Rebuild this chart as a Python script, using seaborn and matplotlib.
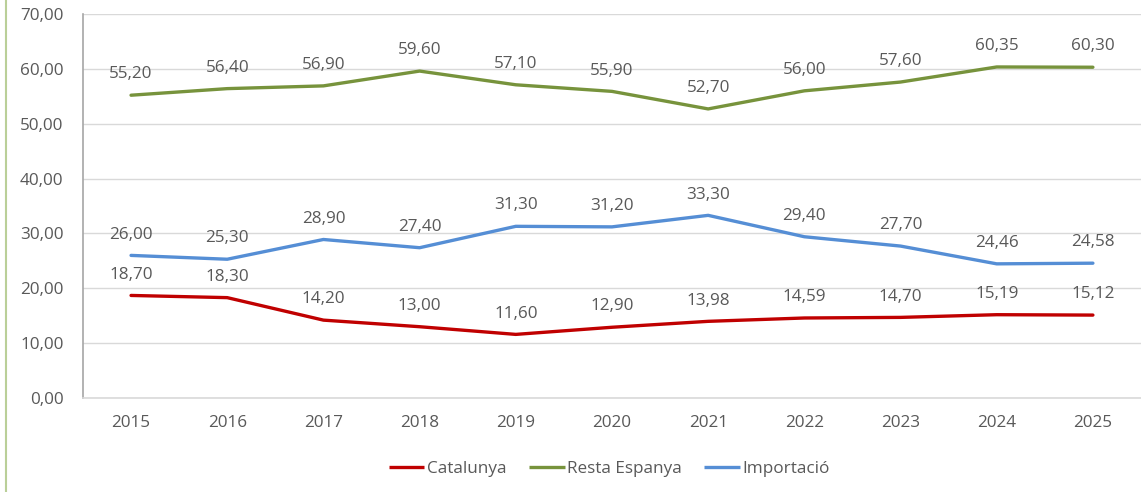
import matplotlib
matplotlib.use('Agg')
import matplotlib.pyplot as plt
from matplotlib.lines import Line2D
import seaborn as sns
import pandas as pd

###############################################################################
# Data
###############################################################################
years = [2015, 2016, 2017, 2018, 2019, 2020, 2021, 2022, 2023, 2024, 2025]
catalunya = [18.70, 18.30, 14.20, 13.00, 11.60, 12.90, 13.98, 14.59, 14.70, 15.19, 15.12]
resta_espanya = [55.20, 56.40, 56.90, 59.60, 57.10, 55.90, 52.70, 56.00, 57.60, 60.35, 60.30]
importacio = [26.00, 25.30, 28.90, 27.40, 31.30, 31.20, 33.30, 29.40, 27.70, 24.46, 24.58]

series = {'Catalunya': catalunya, 'Resta Espanya': resta_espanya, 'Importació': importacio}
colors = {'Catalunya': '#C00000', 'Resta Espanya': '#77933C', 'Importació': '#558ED5'}

rows = []
for name, vals in series.items():
    for i, (yr, v) in enumerate(zip(years, vals)):
        rows.append({'pos': i, 'year': yr, 'value': v, 'serie': name})
df = pd.DataFrame(rows)

###############################################################################
# Plot
###############################################################################
sns.set_theme(style='white')
plt.rcParams['font.family'] = ['Open Sans', 'DejaVu Sans']
text_grey = '#595959'
fs = 12.3

fig = plt.figure(figsize=(11.41, 4.92), dpi=100)
ax = fig.add_axes([0.0727, 0.191, 0.9273, 0.7805])

sns.lineplot(data=df, x='pos', y='value', hue='serie', palette=colors,
             linewidth=2.4, ax=ax, legend=False)

# data labels
for name, vals in series.items():
    for i, v in enumerate(vals):
        ax.annotate(f'{v:.2f}'.replace('.', ','), (i, v), xytext=(0, 15),
                    textcoords='offset points', ha='center', va='center',
                    fontsize=fs, color=text_grey)

ax.set_xlim(-0.5, len(years) - 0.5)
ax.set_ylim(0, 70)
ax.set_xticks(range(len(years)))
ax.set_xticklabels([str(y) for y in years])
yt = list(range(0, 71, 10))
ax.set_yticks(yt)
ax.set_yticklabels([f'{v:.2f}'.replace('.', ',') for v in yt])
ax.tick_params(axis='both', labelsize=fs, colors=text_grey, length=0)
ax.tick_params(axis='y', pad=14)
ax.tick_params(axis='x', pad=12)
ax.set_xlabel('')
ax.set_ylabel('')

ax.grid(axis='y', color='#d9d9d9', linewidth=1)
ax.set_axisbelow(True)
for s in ['top', 'right']:
    ax.spines[s].set_visible(False)
ax.spines['left'].set_color('#a6a6a6')
ax.spines['left'].set_linewidth(1.2)
ax.spines['bottom'].set_color('#d9d9d9')
ax.spines['bottom'].set_linewidth(1.2)

# legend, centred under the plot area
handles = [Line2D([0], [0], color=colors[n], linewidth=2.4, solid_capstyle='butt')
           for n in series]
fig.legend(handles, list(series.keys()), loc='center', bbox_to_anchor=(0.534, 0.047),
           ncol=3, frameon=False, fontsize=fs, labelcolor=text_grey,
           handlelength=2.1, handletextpad=0.15, columnspacing=1.3)

# left page edge line
fig.add_artist(Line2D([0.005, 0.005], [0.0, 1.0], transform=fig.transFigure,
                      color='#a9c47f', linewidth=1.5, alpha=0.8))

fig.savefig('out.png', dpi=100)
